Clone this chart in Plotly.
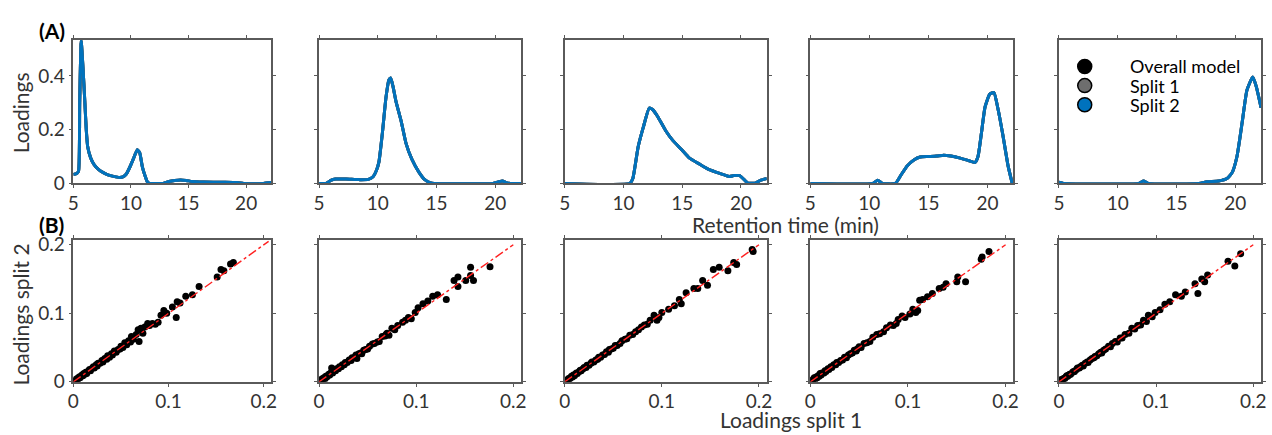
import plotly.graph_objects as go

W, H = 1272, 435
FONT = "Lato"
TXT = "#333333"
AXC = "#5a5a5a"
BLUE = "#0072BD"

# ---------- (A) loading profiles vs retention time ----------
rt_1 = [5.0, 5.3, 5.45, 5.55, 5.68, 5.85, 6.0, 6.12, 6.25, 6.5, 6.8, 7.2, 7.6, 8.0, 8.5, 9.0, 9.3, 9.6,
        9.9, 10.2, 10.55, 10.75, 11.0, 11.25, 11.45, 11.6, 12.8, 13.3, 13.8, 14.3, 14.8, 15.3, 16.3,
        18.0, 19.2, 19.8, 21.5, 22.2]
load_1 = [0.033, 0.037, 0.045, 0.30, 0.53, 0.42, 0.30, 0.20, 0.135, 0.095, 0.070, 0.051, 0.040, 0.032,
          0.026, 0.022, 0.024, 0.035, 0.060, 0.090, 0.125, 0.115, 0.060, 0.025, 0.004, 0.0, 0.0, 0.007,
          0.011, 0.013, 0.011, 0.007, 0.005, 0.004, 0.003, 0.0, 0.0, 0.003]

rt_2 = [5.0, 5.6, 6.0, 6.4, 7.3, 8.4, 9.2, 9.6, 9.9, 10.1, 10.4, 10.7, 10.95, 11.1, 11.3, 11.55, 12.0,
        12.4, 12.9, 13.5, 14.0, 14.5, 14.8, 19.8, 20.3, 20.6, 21.0, 21.3, 22.2]
load_2 = [0.0, 0.0, 0.011, 0.016, 0.016, 0.014, 0.015, 0.025, 0.050, 0.080, 0.190, 0.320, 0.385, 0.392,
          0.360, 0.305, 0.230, 0.150, 0.090, 0.042, 0.014, 0.002, 0.0, 0.0, 0.006, 0.009, 0.002, 0.0, 0.0]

rt_3 = [5.0, 10.55, 10.8, 11.25, 11.7, 12.2, 12.5, 12.9, 13.6, 14.2, 14.9, 15.6, 16.5, 17.3, 18.2, 19.0,
        19.4, 19.9, 20.25, 20.6, 21.2, 21.7, 22.2]
load_3 = [0.0, 0.0, 0.018, 0.135, 0.210, 0.280, 0.274, 0.250, 0.196, 0.160, 0.128, 0.095, 0.071, 0.051,
          0.037, 0.026, 0.029, 0.029, 0.015, 0.001, 0.001, 0.012, 0.018]

rt_4 = [5.0, 10.3, 10.7, 11.1, 12.2, 12.65, 13.2, 13.8, 14.3, 15.0, 15.7, 16.3, 16.9, 17.7, 18.4, 18.95,
        19.2, 19.5, 19.8, 20.2, 20.55, 20.9, 21.3, 21.75, 22.1]
load_4 = [0.0, 0.0, 0.012, 0.0, 0.0, 0.029, 0.065, 0.088, 0.098, 0.100, 0.102, 0.105, 0.102, 0.094,
          0.085, 0.078, 0.100, 0.190, 0.285, 0.332, 0.338, 0.276, 0.182, 0.065, 0.0]

rt_5 = [5.0, 5.4, 11.8, 12.2, 12.6, 16.9, 17.6, 18.6, 19.3, 19.75, 20.15, 20.6, 21.0, 21.5, 21.8, 22.2]
load_5 = [0.004, 0.0, 0.0, 0.009, 0.0, 0.0, 0.006, 0.009, 0.018, 0.041, 0.100, 0.229, 0.347, 0.396,
          0.359, 0.282]

profiles = [(rt_1, load_1), (rt_2, load_2), (rt_3, load_3), (rt_4, load_4), (rt_5, load_5)]

# ---------- (B) split 1 vs split 2 loadings ----------
split1_1 = [0.001, 0.002, 0.003, 0.004, 0.005, 0.006, 0.007, 0.008, 0.009, 0.010, 0.011, 0.012, 0.013,
            0.014, 0.016, 0.017, 0.018, 0.020, 0.021, 0.022, 0.024, 0.025, 0.026, 0.028, 0.030, 0.031,
            0.033, 0.035, 0.036, 0.038, 0.040, 0.041, 0.043, 0.045, 0.047, 0.049, 0.050, 0.052, 0.054,
            0.056, 0.058, 0.060, 0.061, 0.063, 0.066, 0.068, 0.069, 0.071, 0.073, 0.075, 0.078, 0.080,
            0.083, 0.086, 0.089, 0.092, 0.095, 0.098, 0.104, 0.108, 0.109, 0.112, 0.118, 0.125, 0.132,
            0.151, 0.155, 0.158, 0.165, 0.168]
split2_1 = [0.001, 0.003, 0.002, 0.005, 0.004, 0.007, 0.006, 0.008, 0.010, 0.009, 0.012, 0.011, 0.014,
            0.012, 0.016, 0.018, 0.016, 0.020, 0.022, 0.020, 0.025, 0.023, 0.027, 0.027, 0.031, 0.029,
            0.034, 0.033, 0.038, 0.036, 0.041, 0.039, 0.045, 0.043, 0.047, 0.048, 0.052, 0.050, 0.057,
            0.054, 0.060, 0.058, 0.066, 0.062, 0.069, 0.076, 0.059, 0.078, 0.071, 0.080, 0.085, 0.082,
            0.085, 0.084, 0.087, 0.097, 0.104, 0.100, 0.109, 0.094, 0.117, 0.115, 0.125, 0.127, 0.139,
            0.153, 0.164, 0.162, 0.172, 0.174]

split1_2 = [0.001, 0.002, 0.003, 0.004, 0.005, 0.006, 0.007, 0.008, 0.009, 0.010, 0.011, 0.012, 0.013,
            0.014, 0.015, 0.017, 0.018, 0.020, 0.021, 0.023, 0.024, 0.026, 0.027, 0.029, 0.031, 0.033,
            0.034, 0.036, 0.038, 0.039, 0.041, 0.043, 0.044, 0.046, 0.048, 0.050, 0.052, 0.055, 0.057,
            0.060, 0.062, 0.065, 0.068, 0.069, 0.070, 0.072, 0.075, 0.078, 0.081, 0.086, 0.089, 0.092,
            0.095, 0.099, 0.102, 0.107, 0.112, 0.117, 0.122, 0.131, 0.139, 0.143, 0.143, 0.151, 0.156,
            0.156, 0.159, 0.176]
split2_2 = [0.002, 0.001, 0.004, 0.003, 0.006, 0.004, 0.008, 0.007, 0.009, 0.011, 0.010, 0.013, 0.020,
            0.013, 0.016, 0.016, 0.019, 0.019, 0.022, 0.022, 0.025, 0.025, 0.028, 0.028, 0.032, 0.031,
            0.035, 0.035, 0.039, 0.034, 0.041, 0.042, 0.041, 0.046, 0.047, 0.048, 0.052, 0.055, 0.056,
            0.058, 0.059, 0.066, 0.067, 0.069, 0.071, 0.068, 0.078, 0.076, 0.082, 0.087, 0.090, 0.094,
            0.092, 0.101, 0.108, 0.114, 0.118, 0.125, 0.127, 0.120, 0.148, 0.153, 0.139, 0.148, 0.155,
            0.167, 0.148, 0.168]

split1_3 = [0.001, 0.002, 0.003, 0.004, 0.005, 0.006, 0.007, 0.008, 0.009, 0.010, 0.011, 0.012, 0.013,
            0.015, 0.016, 0.017, 0.019, 0.020, 0.022, 0.023, 0.025, 0.027, 0.028, 0.030, 0.032, 0.034,
            0.035, 0.037, 0.039, 0.041, 0.043, 0.045, 0.046, 0.048, 0.050, 0.052, 0.054, 0.057, 0.059,
            0.062, 0.064, 0.067, 0.070, 0.073, 0.076, 0.079, 0.082, 0.085, 0.088, 0.092, 0.095, 0.097,
            0.100, 0.107, 0.113, 0.118, 0.120, 0.125, 0.133, 0.137, 0.142, 0.147, 0.153, 0.159, 0.168,
            0.174, 0.177, 0.193, 0.194]
split2_3 = [0.001, 0.002, 0.003, 0.005, 0.004, 0.006, 0.008, 0.007, 0.010, 0.009, 0.011, 0.013, 0.012,
            0.015, 0.017, 0.016, 0.019, 0.021, 0.021, 0.024, 0.024, 0.027, 0.029, 0.029, 0.032, 0.033,
            0.036, 0.036, 0.039, 0.040, 0.044, 0.043, 0.047, 0.048, 0.049, 0.053, 0.053, 0.056, 0.060,
            0.062, 0.063, 0.068, 0.069, 0.073, 0.076, 0.080, 0.083, 0.084, 0.090, 0.097, 0.090, 0.094,
            0.101, 0.106, 0.111, 0.120, 0.114, 0.130, 0.136, 0.136, 0.148, 0.141, 0.164, 0.167, 0.162,
            0.174, 0.171, 0.193, 0.190]

split1_4 = [0.001, 0.002, 0.003, 0.004, 0.005, 0.006, 0.007, 0.008, 0.009, 0.010, 0.011, 0.012, 0.014,
            0.015, 0.016, 0.018, 0.019, 0.021, 0.022, 0.024, 0.026, 0.027, 0.029, 0.031, 0.033, 0.035,
            0.037, 0.039, 0.041, 0.043, 0.045, 0.047, 0.048, 0.050, 0.052, 0.055, 0.058, 0.061, 0.064,
            0.068, 0.071, 0.075, 0.078, 0.082, 0.085, 0.088, 0.090, 0.094, 0.097, 0.102, 0.105, 0.108,
            0.110, 0.112, 0.115, 0.120, 0.125, 0.132, 0.136, 0.139, 0.150, 0.151, 0.159, 0.175, 0.176,
            0.183]
split2_4 = [0.002, 0.001, 0.004, 0.006, 0.004, 0.007, 0.006, 0.009, 0.008, 0.012, 0.010, 0.013, 0.013,
            0.016, 0.015, 0.019, 0.018, 0.022, 0.021, 0.025, 0.025, 0.028, 0.028, 0.031, 0.032, 0.036,
            0.035, 0.039, 0.041, 0.042, 0.046, 0.045, 0.048, 0.051, 0.050, 0.056, 0.057, 0.059, 0.065,
            0.069, 0.070, 0.073, 0.079, 0.083, 0.082, 0.085, 0.091, 0.096, 0.094, 0.099, 0.106, 0.101,
            0.104, 0.119, 0.120, 0.124, 0.129, 0.136, 0.138, 0.143, 0.146, 0.153, 0.146, 0.179, 0.182,
            0.190]

split1_5 = [0.001, 0.002, 0.003, 0.004, 0.005, 0.006, 0.007, 0.008, 0.009, 0.010, 0.011, 0.012, 0.014,
            0.015, 0.016, 0.018, 0.019, 0.021, 0.022, 0.024, 0.025, 0.027, 0.029, 0.030, 0.032, 0.034,
            0.036, 0.037, 0.039, 0.041, 0.043, 0.044, 0.046, 0.048, 0.051, 0.053, 0.055, 0.058, 0.060,
            0.063, 0.065, 0.068, 0.072, 0.075, 0.078, 0.081, 0.084, 0.087, 0.090, 0.092, 0.096, 0.099,
            0.104, 0.109, 0.114, 0.120, 0.126, 0.130, 0.140, 0.143, 0.147, 0.150, 0.153, 0.174, 0.181,
            0.187]
split2_5 = [0.001, 0.003, 0.002, 0.004, 0.005, 0.005, 0.007, 0.009, 0.008, 0.010, 0.011, 0.011, 0.014,
            0.015, 0.015, 0.018, 0.020, 0.020, 0.022, 0.024, 0.023, 0.027, 0.029, 0.028, 0.032, 0.034,
            0.035, 0.037, 0.038, 0.041, 0.043, 0.042, 0.046, 0.048, 0.052, 0.051, 0.056, 0.059, 0.058,
            0.064, 0.064, 0.069, 0.071, 0.078, 0.077, 0.082, 0.083, 0.090, 0.088, 0.097, 0.095, 0.101,
            0.105, 0.113, 0.117, 0.127, 0.125, 0.131, 0.143, 0.129, 0.150, 0.146, 0.156, 0.176, 0.169,
            0.187]

splits = [(split1_1, split2_1), (split1_2, split2_2), (split1_3, split2_3),
          (split1_4, split2_4), (split1_5, split2_5)]
identity_end = [0.205, 0.2, 0.2, 0.2, 0.2]

series_names = ["Overall model", "Split 1", "Split 2"]
series_colors = ["#000000", "#6e6e6e", BLUE]

# panel geometry in pixels
col_left = [68, 316, 564, 812, 1063]
col_right = [268, 520, 768, 1017, 1267]
top_px = (34, 184)
bot_px = (243, 391)


def xdom(i):
    return [col_left[i] / W, col_right[i] / W]


def ydom(px):
    return [1 - px[1] / H, 1 - px[0] / H]


fig = go.Figure()

tickfont = dict(family=FONT, size=19, color=TXT)
axis_common = dict(showline=True, linecolor=AXC, linewidth=1.5, mirror="ticks", ticks="outside",
                   ticklen=3, tickwidth=1.2, tickcolor=AXC, showgrid=False, zeroline=False,
                   tickfont=tickfont)

layout = {}
for i in range(5):
    # top row axes
    xa = f"xaxis{i + 1}" if i else "xaxis"
    ya = f"yaxis{i + 1}" if i else "yaxis"
    layout[xa] = dict(axis_common, domain=xdom(i), range=[5, 22.2], tickvals=[5, 10, 15, 20],
                      anchor=f"y{i + 1}" if i else "y", ticklabelstandoff=-1)
    layout[ya] = dict(axis_common, domain=ydom(top_px), range=[0, 0.535], tickvals=[0, 0.2, 0.4],
                      ticktext=["0", "0.2", "0.4"], showticklabels=(i == 0),
                      anchor=f"x{i + 1}" if i else "x")
    # bottom row axes
    j = i + 6
    layout[f"xaxis{j}"] = dict(axis_common, domain=xdom(i), range=[0, 0.208], tickvals=[0, 0.1, 0.2],
                               ticktext=["0", "0.1", "0.2"], anchor=f"y{j}", ticklabelstandoff=-1)
    layout[f"yaxis{j}"] = dict(axis_common, domain=ydom(bot_px), range=[0, 0.207], tickvals=[0, 0.1, 0.2],
                               ticktext=["0", "0.1", "0.2"], showticklabels=(i == 0), anchor=f"x{j}")

for i, (rt, ld) in enumerate(profiles):
    xr = f"x{i + 1}" if i else "x"
    yr = f"y{i + 1}" if i else "y"
    for name, col in zip(series_names, series_colors):
        fig.add_trace(go.Scatter(x=rt, y=ld, mode="lines", xaxis=xr, yaxis=yr, showlegend=False,
                                 line=dict(color=col, width=3, shape="spline", smoothing=0.5),
                                 name=name))

for i, (s1, s2) in enumerate(splits):
    j = i + 6
    fig.add_trace(go.Scatter(x=s1, y=s2, mode="markers", xaxis=f"x{j}", yaxis=f"y{j}", showlegend=False,
                             marker=dict(color="black", size=7)))
    fig.add_trace(go.Scatter(x=[0, identity_end[i]], y=[0, identity_end[i]], mode="lines",
                             xaxis=f"x{j}", yaxis=f"y{j}", showlegend=False,
                             line=dict(color="#ff2020", width=1.4, dash="dashdot")))

# key for the three profile series: circle swatches with labels inside the last panel
key_x, key_text_x, key_y0, key_dy = 1089, 1133, 62, 20
shapes = []
annotations = []
for k, (name, col) in enumerate(zip(series_names, series_colors)):
    cy = 1 - (key_y0 + k * key_dy) / H
    shapes.append(dict(type="circle", xref="paper", yref="paper", xsizemode="pixel", ysizemode="pixel",
                       xanchor=key_x / W, yanchor=cy, x0=-7, x1=7, y0=-7, y1=7,
                       fillcolor=col, line=dict(color="black", width=1.5)))
    annotations.append(dict(text=name, x=key_text_x / W, y=cy, xanchor="left", yanchor="middle",
                            font=dict(family=FONT, size=18, color="black")))

label_font = dict(family=FONT, size=21, color=TXT)
panel_font = dict(family=FONT, size=21, color="black")
annotations += [
    dict(text="<b>(A)</b>", x=31 / W, y=1 - 25 / H, xanchor="left", yanchor="middle", font=panel_font),
    dict(text="<b>(B)</b>", x=31 / W, y=1 - 227 / H, xanchor="left", yanchor="middle", font=panel_font),
    dict(text="Loadings", x=15 / W, y=1 - 110 / H, textangle=-90,
         xanchor="center", yanchor="middle", font=label_font),
    dict(text="Loadings split 2", x=15 / W, y=1 - 321 / H, textangle=-90,
         xanchor="center", yanchor="middle", font=label_font),
    dict(text="Retention time (min)", x=787 / W, y=1 - 227 / H,
         xanchor="center", yanchor="middle", font=label_font),
    dict(text="Loadings split 1", x=792 / W, y=1 - 430 / H,
         xanchor="center", yanchor="middle", font=label_font),
]
for a in annotations:
    a.setdefault("xref", "paper")
    a.setdefault("yref", "paper")
    a["showarrow"] = False

fig.update_layout(
    width=W, height=H, margin=dict(l=0, r=0, t=0, b=0),
    paper_bgcolor="white", plot_bgcolor="white",
    annotations=annotations, shapes=shapes,
    showlegend=False,
    **layout,
)

fig.write_html("out.html")
